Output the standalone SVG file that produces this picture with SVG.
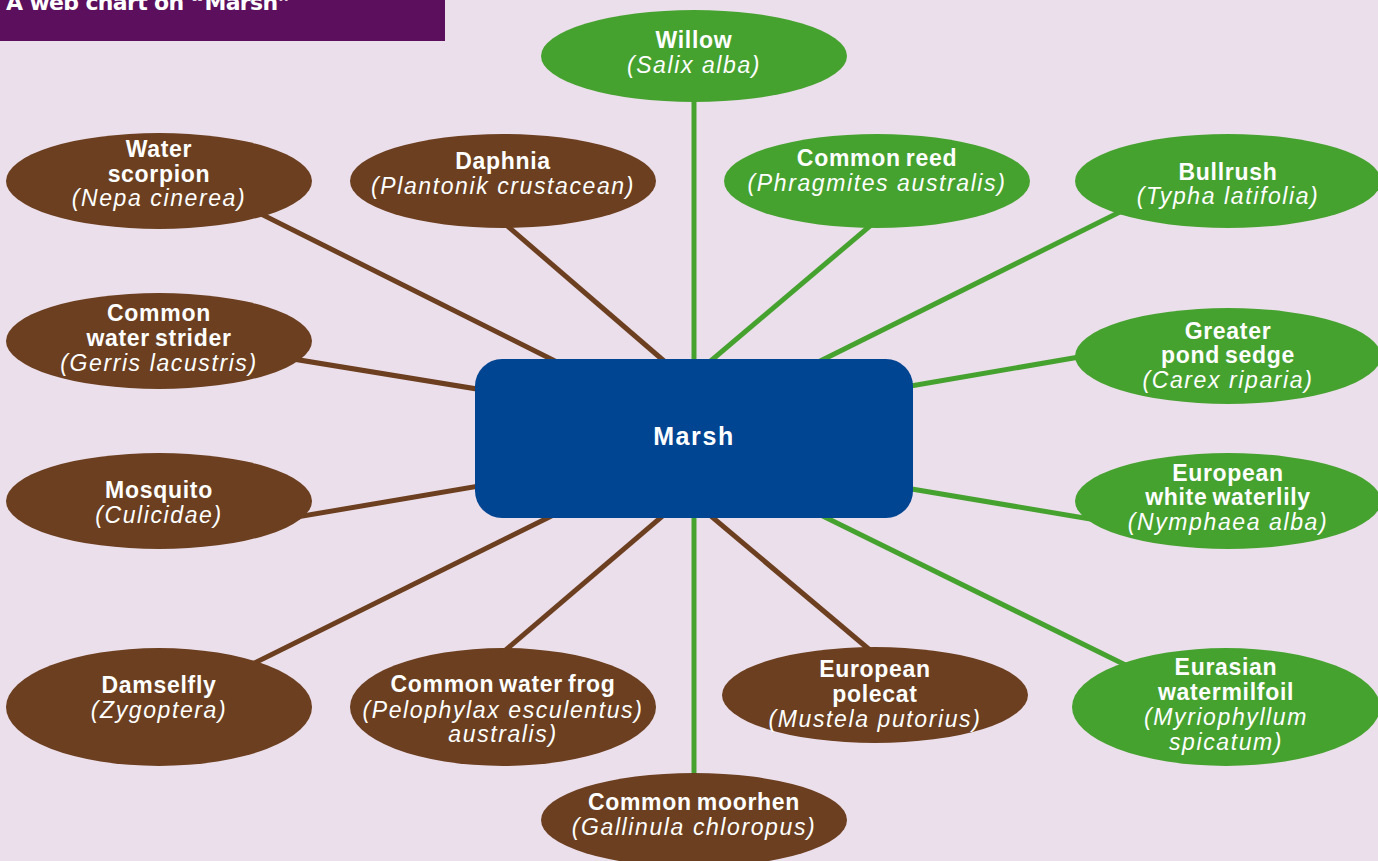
<svg xmlns="http://www.w3.org/2000/svg" width="1378" height="861" viewBox="0 0 1378 861">
<style>
.b{font-family:"Liberation Sans",Arial,sans-serif;font-weight:bold;font-size:23px;fill:#fff;text-anchor:middle;letter-spacing:0.7px;word-spacing:-2px}
.i{font-family:"Liberation Sans",Arial,sans-serif;font-style:italic;font-size:23px;fill:#fff;text-anchor:middle;letter-spacing:1.6px}
.brown{fill:#6b3f1f}
.green{fill:#46a22f}
.lb{stroke:#6b3f1f;stroke-width:5;fill:none}
.lg{stroke:#46a22f;stroke-width:5;fill:none}
</style>
<rect x="0" y="0" width="1378" height="861" fill="#ecdfec"/>
<g id="title">
<rect x="0" y="0" width="445" height="41" fill="#5c0f5c"/>
<text x="6" y="10" font-family="DejaVu Sans,sans-serif" font-weight="bold" font-size="22" fill="#fff" textLength="286" lengthAdjust="spacing">A web chart on “Marsh”</text>
</g>
<g id="connectors">
<line class="lg" x1="694" y1="80" x2="694" y2="400"/>
<line class="lb" x1="227" y1="197" x2="611" y2="389"/>
<line class="lb" x1="490" y1="211" x2="700" y2="392"/>
<line class="lg" x1="890" y1="209" x2="680" y2="387"/>
<line class="lg" x1="1150" y1="197" x2="780" y2="381"/>
<line class="lb" x1="250" y1="352" x2="520" y2="396"/>
<line class="lg" x1="1120" y1="350" x2="870" y2="393"/>
<line class="lb" x1="250" y1="525" x2="520" y2="479"/>
<line class="lg" x1="1120" y1="524" x2="870" y2="482"/>
<line class="lb" x1="220" y1="680" x2="600" y2="492"/>
<line class="lb" x1="480" y1="672" x2="700" y2="484"/>
<line class="lg" x1="694" y1="480" x2="694" y2="800"/>
<line class="lb" x1="890" y1="667" x2="680" y2="490"/>
<line class="lg" x1="1160" y1="682" x2="780" y2="495"/>
</g>
<g id="marsh">
<rect x="475" y="359" width="438" height="159" rx="27" fill="#004592"/>
<text x="694" y="445" font-family="Liberation Sans,Arial,sans-serif" font-weight="bold" font-size="25" fill="#fff" text-anchor="middle" letter-spacing="1.6">Marsh</text>
</g>
<g id="willow">
<ellipse class="green" cx="694" cy="56" rx="153" ry="46"/>
<text class="b" x="694" y="48">Willow</text>
<text class="i" x="694" y="73">(Salix alba)</text>
</g>
<g id="water-scorpion">
<ellipse class="brown" cx="159" cy="181" rx="153" ry="48"/>
<text class="b" x="159" y="157">Water</text>
<text class="b" x="159" y="182">scorpion</text>
<text class="i" x="159" y="206">(Nepa cinerea)</text>
</g>
<g id="daphnia">
<ellipse class="brown" cx="503" cy="181" rx="153" ry="47"/>
<text class="b" x="503" y="169">Daphnia</text>
<text class="i" x="503" y="194">(Plantonik crustacean)</text>
</g>
<g id="common-reed">
<ellipse class="green" cx="877" cy="181" rx="153" ry="47"/>
<text class="b" x="877" y="166">Common reed</text>
<text class="i" x="877" y="191">(Phragmites australis)</text>
</g>
<g id="bullrush">
<ellipse class="green" cx="1228" cy="181" rx="153" ry="47"/>
<text class="b" x="1228" y="180">Bullrush</text>
<text class="i" x="1228" y="204">(Typha latifolia)</text>
</g>
<g id="water-strider">
<ellipse class="brown" cx="159" cy="341" rx="153" ry="48"/>
<text class="b" x="159" y="321">Common</text>
<text class="b" x="159" y="346">water strider</text>
<text class="i" x="159" y="371">(Gerris lacustris)</text>
</g>
<g id="pond-sedge">
<ellipse class="green" cx="1228" cy="356" rx="153" ry="48"/>
<text class="b" x="1228" y="339">Greater</text>
<text class="b" x="1228" y="363">pond sedge</text>
<text class="i" x="1228" y="388">(Carex riparia)</text>
</g>
<g id="mosquito">
<ellipse class="brown" cx="159" cy="501" rx="153" ry="48"/>
<text class="b" x="159" y="498">Mosquito</text>
<text class="i" x="159" y="523">(Culicidae)</text>
</g>
<g id="waterlily">
<ellipse class="green" cx="1228" cy="501" rx="153" ry="48"/>
<text class="b" x="1228" y="481">European</text>
<text class="b" x="1228" y="505">white waterlily</text>
<text class="i" x="1228" y="530">(Nymphaea alba)</text>
</g>
<g id="damselfly">
<ellipse class="brown" cx="159" cy="707" rx="153" ry="59"/>
<text class="b" x="159" y="693">Damselfly</text>
<text class="i" x="159" y="718">(Zygoptera)</text>
</g>
<g id="water-frog">
<ellipse class="brown" cx="503" cy="707" rx="153" ry="59"/>
<text class="b" x="503" y="692">Common water frog</text>
<text class="i" x="503" y="718">(Pelophylax esculentus)</text>
<text class="i" x="503" y="742">australis)</text>
</g>
<g id="polecat">
<ellipse class="brown" cx="875" cy="695" rx="153" ry="48"/>
<text class="b" x="875" y="677">European</text>
<text class="b" x="875" y="702">polecat</text>
<text class="i" x="875" y="727">(Mustela putorius)</text>
</g>
<g id="watermilfoil">
<ellipse class="green" cx="1226" cy="707" rx="154" ry="59"/>
<text class="b" x="1226" y="675">Eurasian</text>
<text class="b" x="1226" y="700">watermilfoil</text>
<text class="i" x="1226" y="725">(Myriophyllum</text>
<text class="i" x="1226" y="750">spicatum)</text>
</g>
<g id="moorhen">
<ellipse class="brown" cx="694" cy="820" rx="153" ry="47"/>
<text class="b" x="694" y="810">Common moorhen</text>
<text class="i" x="694" y="835">(Gallinula chloropus)</text>
</g>
</svg>
